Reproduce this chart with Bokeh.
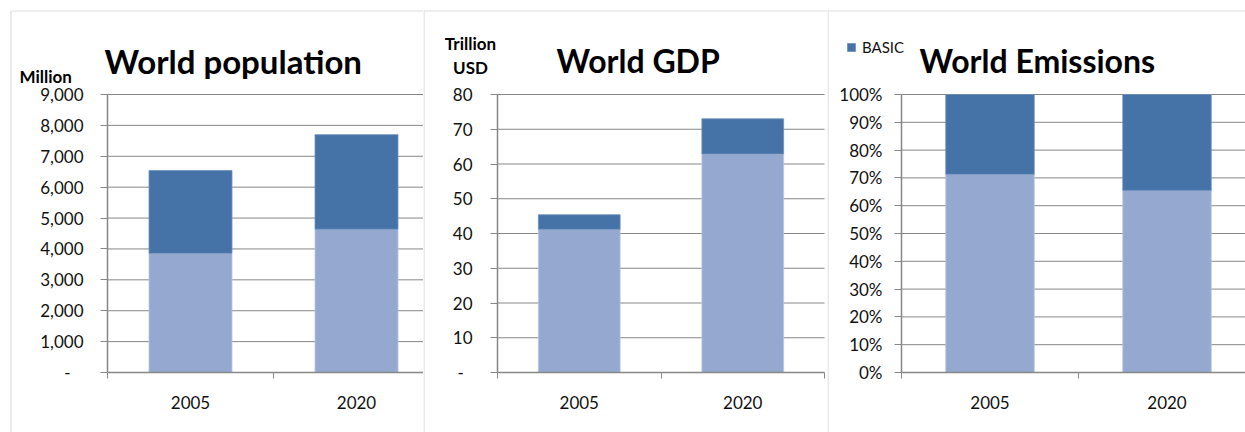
from bokeh.plotting import figure
from bokeh.layouts import row
from bokeh.models import (Range1d, LinearAxis, FixedTicker, Label, BoxAnnotation,
                          ColumnDataSource, Legend, LegendItem)
from bokeh.embed import file_html
from bokeh.resources import INLINE

# ---------------- data ----------------
years = ["2005", "2020"]

pop_rest = [3860, 4640]        # million, lower (light) segment
pop_basic = [2680, 3060]       # million, BASIC (dark) segment
gdp_rest = [41.2, 62.9]        # trillion USD
gdp_basic = [4.2, 10.1]
em_rest = [71.3, 65.5]         # % of world emissions
em_basic = [28.7, 34.5]

pop_ticks = [0, 1000, 2000, 3000, 4000, 5000, 6000, 7000, 8000, 9000]
pop_labels = ["-", "1,000", "2,000", "3,000", "4,000", "5,000", "6,000", "7,000", "8,000", "9,000"]
gdp_ticks = [0, 10, 20, 30, 40, 50, 60, 70, 80]
gdp_labels = ["-", "10", "20", "30", "40", "50", "60", "70", "80"]
em_ticks = [0, 10, 20, 30, 40, 50, 60, 70, 80, 90, 100]
em_labels = ["0%", "10%", "20%", "30%", "40%", "50%", "60%", "70%", "80%", "90%", "100%"]

titles = ["World population", "World GDP", "World Emissions"]
units = ["Million", "Trillion", "USD"]
legend_label = "BASIC"

# ---------------- style ----------------
LIGHT = "#95A9D0"
DARK = "#4673A7"
GRID = "#878787"
BORDER = "#8f8f8f"
FONT = "Lato"
H = 432
Y0, YTOP = 372, 94   # pixel rows of value 0 and of the top tick


def make_panel(width, axis_px, band_px, vmax, ticks, labels, rest, basic,
               standoff, axis_end=None):
    def fx(px):
        return (px - axis_px) / band_px

    def fy(py):
        return (Y0 - py) / (Y0 - YTOP) * vmax

    xr = Range1d(fx(0), fx(width))
    yr = Range1d(fy(H), fy(0))
    p = figure(width=width, height=H, x_range=xr, y_range=yr,
               x_axis_type=None, y_axis_type=None,
               output_backend="svg", toolbar_location=None,
               min_border=0, min_border_left=0, min_border_right=0,
               min_border_top=0, min_border_bottom=0,
               outline_line_color=None, background_fill_color="white",
               border_fill_color="white")
    xend = axis_end if axis_end is not None else xr.end

    # gridlines
    gt = ticks[1:]
    p.segment(x0=[0] * len(gt), x1=[xend] * len(gt), y0=gt, y1=gt,
              line_color=GRID, line_width=1)

    xs = [i + 0.5 for i in range(len(years))]
    src = ColumnDataSource(dict(x=xs, rest=rest, basic=basic))
    rs = p.vbar_stack(["rest", "basic"], x="x", width=0.5, source=src,
                      fill_color=[LIGHT, DARK], line_color=["#b7c6e2", "#6f8fbd"],
                      line_width=0.8)

    yax = LinearAxis(fixed_location=0, bounds=(0, vmax),
                     ticker=FixedTicker(ticks=ticks, minor_ticks=[]),
                     major_label_overrides={t: l for t, l in zip(ticks, labels)},
                     axis_line_color=GRID, axis_line_width=1.5,
                     major_tick_line_color=GRID, major_tick_out=7, major_tick_in=0,
                     minor_tick_line_color=None,
                     major_label_standoff=standoff,
                     major_label_text_font=FONT, major_label_text_font_size="17px",
                     major_label_text_color="#111111")
    p.add_layout(yax, "left")

    xax = LinearAxis(fixed_location=0, bounds=(0, xend),
                     ticker=FixedTicker(ticks=xs, minor_ticks=[0, 1, 2]),
                     major_label_overrides={x: y for x, y in zip(xs, years)},
                     axis_line_color=GRID, axis_line_width=1.5,
                     major_tick_line_color=None, major_tick_out=0, major_tick_in=0,
                     minor_tick_line_color=GRID, minor_tick_out=6, minor_tick_in=0,
                     major_label_standoff=17,
                     major_label_text_font=FONT, major_label_text_font_size="17px",
                     major_label_text_color="#111111")
    p.add_layout(xax, "below")
    return p, fx, fy, rs


def title(p, fx, fy, text, px, base, size="32px"):
    p.add_layout(Label(x=fx(px), y=fy(base), text=text, text_font=FONT,
                       text_font_style="bold", text_font_size=size,
                       text_color="black", text_baseline="alphabetic",
                       text_align="left"))


def small_bold(p, fx, fy, text, px, base, align="left"):
    p.add_layout(Label(x=fx(px), y=fy(base), text=text, text_font=FONT,
                       text_font_style="bold", text_font_size="17px",
                       text_color="black", text_baseline="alphabetic",
                       text_align=align))


def border(p, fx, fy, left_px):
    p.add_layout(BoxAnnotation(left=fx(left_px), right=fx(2000), top=fy(10.5),
                               bottom=fy(1000), fill_alpha=0,
                               line_color=BORDER, line_width=1.2))


# panel 1: population
p1, fx1, fy1, _ = make_panel(423, 107, 166, 9000, pop_ticks,
                             [l if l != "-" else "-\u00a0\u00a0\u00a0" for l in pop_labels],
                             pop_rest, pop_basic, 17)
border(p1, fx1, fy1, 10.5)
title(p1, fx1, fy1, titles[0], 104, 60, "33px")
small_bold(p1, fx1, fy1, units[0], 19, 76)

# panel 2: GDP
p2, fx2, fy2, _ = make_panel(404, 74, 163.5, 80, gdp_ticks,
                             [l if l != "-" else "-\u00a0\u00a0" for l in gdp_labels],
                             gdp_rest, gdp_basic, 18, axis_end=2)
border(p2, fx2, fy2, 0.5)
title(p2, fx2, fy2, titles[1], 133, 60)
small_bold(p2, fx2, fy2, units[1], 47, 43, "center")
small_bold(p2, fx2, fy2, units[2], 47, 67, "center")

# panel 3: emissions share
p3, fx3, fy3, rs3 = make_panel(418, 74, 177, 100, em_ticks, em_labels,
                               em_rest, em_basic, 12)
border(p3, fx3, fy3, 0.5)
title(p3, fx3, fy3, titles[2], 92, 60)
leg = Legend(items=[LegendItem(label=legend_label, renderers=[rs3[1]])],
             location=(19, H - 56), orientation="horizontal",
             padding=0, margin=0, spacing=0, border_line_color=None,
             background_fill_alpha=0, glyph_width=10, glyph_height=10,
             label_height=10, label_width=10, label_standoff=6,
             label_text_font=FONT, label_text_font_size="15px",
             label_text_color="#111111")
p3.add_layout(leg, "center")

layout = row(p1, p2, p3, spacing=0)
open("out.html", "w").write(file_html(layout, INLINE))
